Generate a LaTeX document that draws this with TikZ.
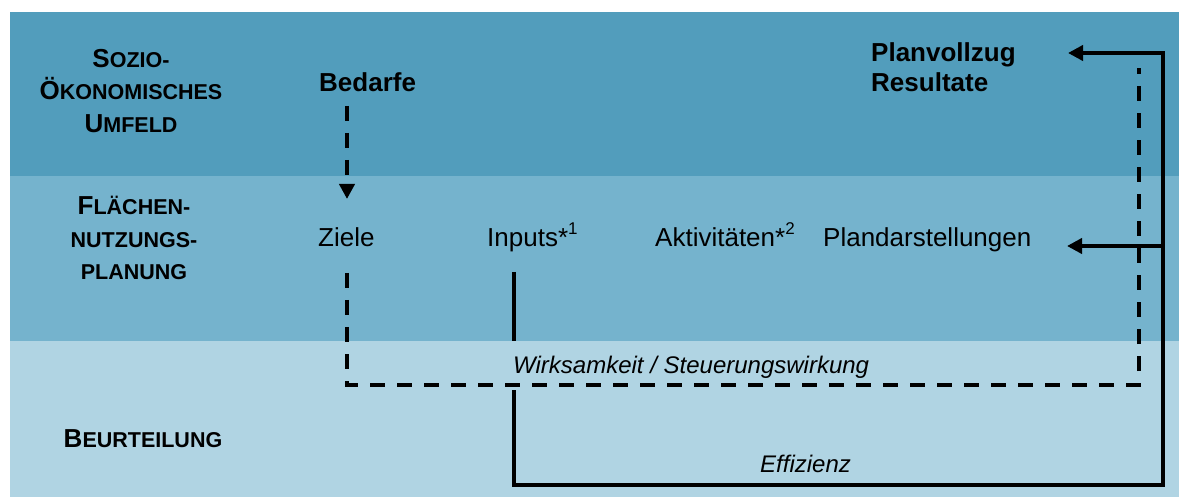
\documentclass[tikz,border=0pt]{standalone}
\usepackage{fontspec}
\setmainfont{Liberation Sans}
\usetikzlibrary{arrows.meta}
\definecolor{bandA}{RGB}{82,157,188}
\definecolor{bandB}{RGB}{117,179,205}
\definecolor{bandC}{RGB}{176,212,227}
\newcommand{\scbig}[1]{{\fontsize{26}{30}\selectfont #1}}
\newcommand{\scsmall}[1]{{\fontsize{21.5}{30}\selectfont #1}}
\newcommand{\supnum}[1]{\raisebox{12pt}{\fontsize{17}{17}\selectfont #1}}
\begin{document}
\begin{tikzpicture}[x=1pt,y=-1pt,
  lbl/.style={inner sep=0pt, font=\bfseries, anchor=base},
  txt/.style={inner sep=0pt, anchor=base west, font=\fontsize{26}{30}\selectfont},
  txtb/.style={inner sep=0pt, anchor=base west, font=\bfseries\fontsize{26}{30}\selectfont},
  txti/.style={inner sep=0pt, anchor=base west, font=\itshape\fontsize{24}{30}\selectfont},
  conn/.style={line width=4pt, draw=black},
  dconn/.style={line width=4pt, draw=black, dash pattern=on 15pt off 12pt},
  tipA/.style={-{Triangle[length=15pt,width=15pt]}}]
\useasboundingbox (0,0) rectangle (1179,497);
% bands
\fill[bandA] (10,12) rectangle (1179,176);
\fill[bandB] (10,176) rectangle (1179,341);
\fill[bandC] (10,341) rectangle (1179,497);
% left labels
\node[lbl] (s1) at (131,68) {\scbig{S}\scsmall{OZIO-}};
\node[lbl] (s2) at (131,100) {\scbig{Ö}\scsmall{KONOMISCHES}};
\node[lbl] (s3) at (131,133) {\scbig{U}\scsmall{MFELD}};
\node[lbl] (f1) at (134,215) {\scbig{F}\scsmall{LÄCHEN-}};
\node[lbl] (f2) at (134,248) {\scsmall{NUTZUNGS-}};
\node[lbl] (f3) at (134,280) {\scsmall{PLANUNG}};
\node[lbl] (b1) at (143,447) {\scbig{B}\scsmall{EURTEILUNG}};
% main texts
\node[txtb] (bedarfe) at (319,92) {Bedarfe};
\node[txtb] (vollzug) at (871,62) {Planvollzug};
\node[txtb] (result) at (871,92) {Resultate};
\node[txt] (ziele) at (318,247) {Ziele};
\node[txt] (inputs) at (487,247) {Inputs*\supnum{1}};
\node[txt] (akt) at (655,247) {Aktivitäten*\supnum{2}};
\node[txt] (plan) at (823,247) {Plandarstellungen};
\node[txti] (effi) at (760,472) {Effizienz};
% coordinates
\coordinate (bd) at (347,106);
\coordinate (zt) at (347,199);
\coordinate (zb) at (347,273);
\coordinate (zc) at (347,385);
\coordinate (wc) at (1139,385);
\coordinate (wt) at (1139,68);
\coordinate (inp) at (514,272);
\coordinate (ic) at (514,485);
\coordinate (rc) at (1163,485);
\coordinate (rt) at (1163,53);
\coordinate (vt) at (1068,53);
\coordinate (rm) at (1163,246);
\coordinate (pt) at (1067,246);
% solid connectors
\draw[conn, tipA] (inp) -- (ic) -- (rc) -- (rt) -- (vt);
\draw[conn, tipA] (rm) -- (pt);
% label box covering the line
\node[inner xsep=8pt, inner ysep=6pt, text height=26pt, text depth=11pt, anchor=base west,
  fill=bandC, font=\itshape\fontsize{24}{30}\selectfont] (wirk) at (505,373) {Wirksamkeit / Steuerungswirkung};
% dashed connectors
\draw[dconn, tipA] (bd) -- (zt);
\draw[dconn] (zb) -- (zc) -- (wc) -- (wt);
\end{tikzpicture}
\end{document}
